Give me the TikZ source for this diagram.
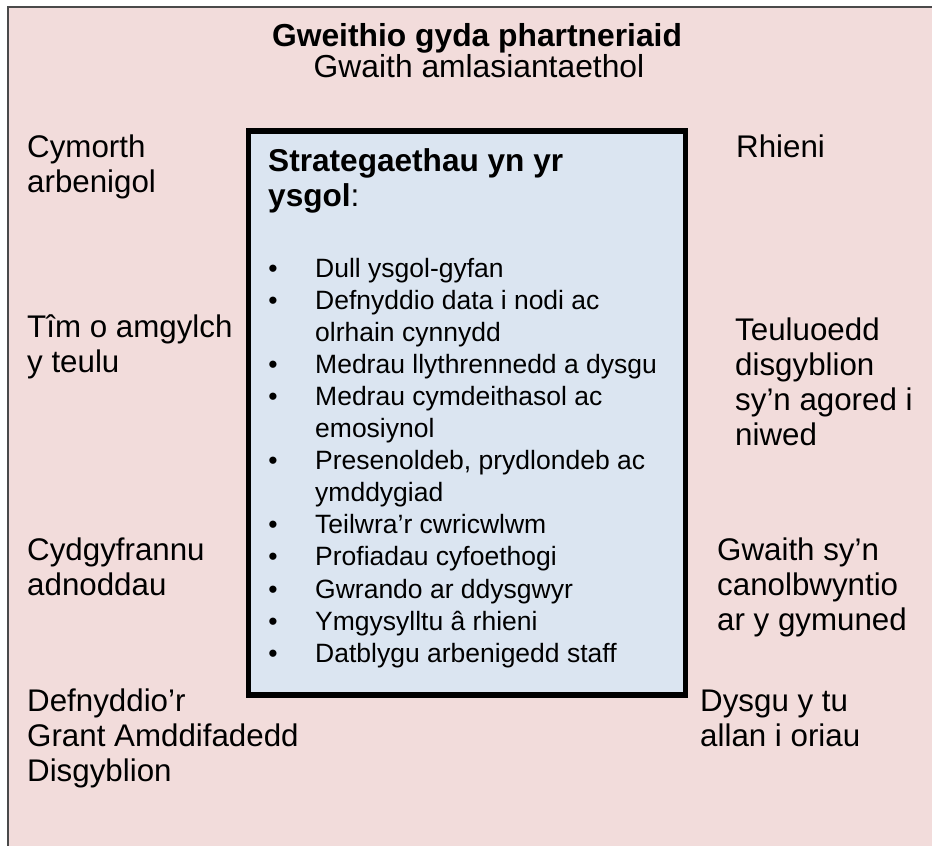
\documentclass[tikz,border=0pt]{standalone}
\usepackage{fontspec}
\setmainfont{Liberation Sans}
\definecolor{pinkbg}{HTML}{F2DCDB}
\definecolor{bluebg}{HTML}{DBE5F1}
\definecolor{framegray}{HTML}{4A4A4A}
\begin{document}
\begin{tikzpicture}[x=1pt,y=-1pt,
  sidetext/.style={anchor=base west,inner sep=0,align=left,font=\fontsize{31.3}{35}\selectfont},
  itemtext/.style={anchor=base west,inner sep=0,align=left,font=\fontsize{26.5}{32.1}\selectfont},
  bullet/.style={anchor=base,inner sep=0,font=\fontsize{26.5}{32.1}\selectfont},
  headtext/.style={anchor=base west,inner sep=0,align=left,font=\fontsize{31.6}{35}\selectfont}]
\useasboundingbox (0,0) rectangle (932,846);
% outer frame (cut off at right and bottom)
\node (frame) [anchor=north west,inner sep=0,draw=framegray,line width=2,fill=pinkbg,
  minimum width=1000,minimum height=900] at (7,6) {};
% inner box
\node (box) [anchor=north west,inner sep=0,draw=black,line width=5.5,fill=bluebg,
  minimum width=437,minimum height=564] at (245.5,128) {};
% title
\node (title) [anchor=base,inner sep=0,font=\fontsize{31.8}{35}\selectfont\bfseries] at (477,46) {Gweithio gyda phartneriaid};
\node (subtitle) [anchor=base,inner sep=0,font=\fontsize{31.8}{35}\selectfont] at (479,77) {Gwaith amlasiantaethol};
% left column (anchor = baseline of last line)
\node (l1) [sidetext] at (27,192) {Cymorth\\arbenigol};
\node (l2) [sidetext] at (27,372) {Tîm o amgylch\\y teulu};
\node (l3) [sidetext] at (27,595) {Cydgyfrannu\\adnoddau};
\node (l4) [sidetext] at (27,781) {Defnyddio’r\\Grant Amddifadedd\\Disgyblion};
% right column
\node (r1) [sidetext] at (736,157) {Rhieni};
\node (r2) [sidetext] at (735,445) {Teuluoedd\\disgyblion\\sy’n agored i\\niwed};
\node (r3) [sidetext] at (717,630) {Gwaith sy’n\\canolbwyntio\\ar y gymuned};
\node (r4) [sidetext] at (700,746) {Dysgu y tu\\allan i oriau};
% heading in box
\node (head) [headtext] at (268,206) {\textbf{Strategaethau yn yr}\\\textbf{ysgol}:};
% items: number / first line / last line / text
\foreach \n/\f/\l/\t in {
  1/0/0/{Dull ysgol-gyfan},
  2/1/2/{Defnyddio data i nodi ac\\olrhain cynnydd},
  3/3/3/{Medrau llythrennedd a dysgu},
  4/4/5/{Medrau cymdeithasol ac\\emosiynol},
  5/6/7/{Presenoldeb, prydlondeb ac\\ymddygiad},
  6/8/8/{Teilwra’r cwricwlwm},
  7/9/9/{Profiadau cyfoethogi},
  8/10/10/{Gwrando ar ddysgwyr},
  9/11/11/{Ymgysylltu â rhieni},
  10/12/12/{Datblygu arbenigedd staff}}{
  \node (b\n) [bullet] at (273,277+32.1*\f) {•};
  \node (i\n) [itemtext] at (315,277+32.1*\l) {\t};
}
\end{tikzpicture}
\end{document}
